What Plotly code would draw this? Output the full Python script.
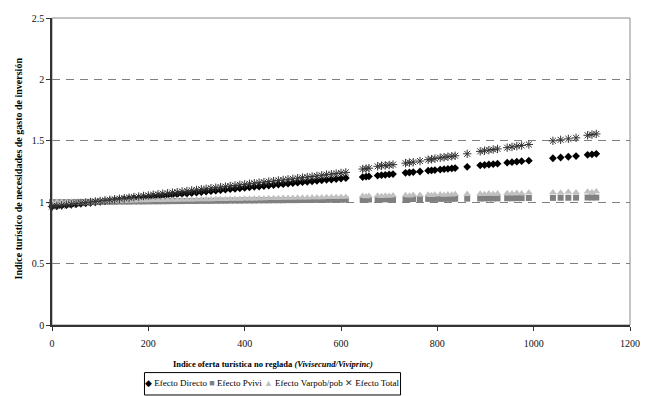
import plotly.graph_objects as go

# ---- data ----
x_dense = [0, 10, 20, 30, 40, 50, 60, 70, 80, 90, 100, 110, 120, 130, 140, 150, 160, 170, 180, 190,
           200, 210, 220, 230, 240, 250, 260, 270, 280, 290, 300, 310, 320, 330, 340, 350, 360, 370,
           380, 390, 400, 410, 420, 430, 440, 450, 460, 470, 480, 490, 500, 510, 520, 530, 540, 550,
           560, 570, 580, 590, 600, 610]
x_sparse = [645, 652, 658, 676, 684, 692, 700, 708, 734, 742, 750, 764, 781, 788, 795, 806, 814, 822,
            830, 837, 862, 889, 898, 907, 916, 925, 945, 955, 965, 975, 990, 1040, 1056, 1072, 1088,
            1112, 1121, 1130]

directo_dense = [0.965, 0.969, 0.973, 0.976, 0.980, 0.984, 0.988, 0.992, 0.995, 0.999, 1.003, 1.007,
                 1.011, 1.014, 1.018, 1.022, 1.026, 1.030, 1.033, 1.037, 1.041, 1.045, 1.049, 1.052,
                 1.056, 1.060, 1.064, 1.068, 1.071, 1.075, 1.079, 1.083, 1.087, 1.090, 1.094, 1.098,
                 1.102, 1.106, 1.109, 1.113, 1.117, 1.121, 1.125, 1.128, 1.132, 1.136, 1.140, 1.144,
                 1.147, 1.151, 1.155, 1.159, 1.163, 1.166, 1.170, 1.174, 1.178, 1.182, 1.185, 1.189,
                 1.193, 1.197]
directo_sparse = [1.205, 1.208, 1.210, 1.217, 1.220, 1.223, 1.226, 1.229, 1.239, 1.242, 1.245, 1.250,
                  1.257, 1.259, 1.262, 1.266, 1.269, 1.272, 1.275, 1.278, 1.288, 1.300, 1.303, 1.307,
                  1.310, 1.314, 1.322, 1.326, 1.330, 1.334, 1.338, 1.358, 1.364, 1.370, 1.376, 1.386,
                  1.390, 1.394]

pvivi_dense = [1.000, 1.000, 1.001, 1.001, 1.001, 1.002, 1.002, 1.002, 1.003, 1.003, 1.003, 1.004,
               1.004, 1.004, 1.005, 1.005, 1.005, 1.006, 1.006, 1.006, 1.007, 1.007, 1.007, 1.008,
               1.008, 1.009, 1.009, 1.009, 1.010, 1.010, 1.010, 1.011, 1.011, 1.011, 1.012, 1.012,
               1.012, 1.013, 1.013, 1.013, 1.014, 1.014, 1.014, 1.015, 1.015, 1.015, 1.016, 1.016,
               1.016, 1.017, 1.017, 1.017, 1.018, 1.018, 1.018, 1.019, 1.019, 1.019, 1.020, 1.020,
               1.020, 1.021]
pvivi_sparse = [1.022, 1.022, 1.022, 1.023, 1.023, 1.024, 1.024, 1.024, 1.025, 1.025, 1.026, 1.026,
                1.027, 1.027, 1.027, 1.027, 1.028, 1.028, 1.028, 1.028, 1.029, 1.030, 1.031, 1.031,
                1.031, 1.031, 1.032, 1.032, 1.033, 1.033, 1.034, 1.035, 1.036, 1.036, 1.037, 1.038,
                1.038, 1.038]

varpob_dense = [1.000, 1.001, 1.001, 1.002, 1.003, 1.004, 1.004, 1.005, 1.006, 1.006, 1.007, 1.008,
                1.008, 1.009, 1.010, 1.011, 1.011, 1.012, 1.013, 1.013, 1.014, 1.015, 1.015, 1.016,
                1.017, 1.018, 1.018, 1.019, 1.020, 1.020, 1.021, 1.022, 1.022, 1.023, 1.024, 1.025,
                1.025, 1.026, 1.027, 1.027, 1.028, 1.029, 1.029, 1.030, 1.031, 1.032, 1.032, 1.033,
                1.034, 1.034, 1.035, 1.036, 1.036, 1.037, 1.038, 1.039, 1.039, 1.040, 1.041, 1.041,
                1.042, 1.043]
varpob_sparse = [1.050, 1.046, 1.051, 1.052, 1.049, 1.053, 1.050, 1.055, 1.057, 1.053, 1.058, 1.059,
                 1.060, 1.057, 1.061, 1.062, 1.059, 1.063, 1.060, 1.064, 1.066, 1.068, 1.065, 1.070,
                 1.067, 1.071, 1.073, 1.070, 1.074, 1.071, 1.076, 1.080, 1.077, 1.083, 1.080, 1.086,
                 1.082, 1.087]

total_dense = [0.965, 0.970, 0.974, 0.979, 0.983, 0.988, 0.992, 0.997, 1.001, 1.006, 1.010, 1.015,
               1.019, 1.024, 1.028, 1.033, 1.037, 1.042, 1.046, 1.051, 1.055, 1.060, 1.064, 1.069,
               1.073, 1.078, 1.082, 1.087, 1.091, 1.096, 1.100, 1.105, 1.109, 1.114, 1.118, 1.123,
               1.127, 1.132, 1.136, 1.141, 1.145, 1.150, 1.154, 1.159, 1.163, 1.168, 1.172, 1.177,
               1.181, 1.186, 1.190, 1.195, 1.200, 1.204, 1.209, 1.214, 1.219, 1.224, 1.228, 1.233,
               1.238, 1.243]
total_sparse = [1.270, 1.273, 1.277, 1.292, 1.297, 1.300, 1.303, 1.306, 1.318, 1.322, 1.326, 1.335,
                1.346, 1.350, 1.355, 1.362, 1.366, 1.370, 1.374, 1.378, 1.394, 1.414, 1.419, 1.424,
                1.429, 1.434, 1.444, 1.450, 1.456, 1.462, 1.470, 1.500, 1.508, 1.516, 1.524, 1.545,
                1.551, 1.556]

x_all = x_dense + x_sparse
series = [
    ("Efecto Directo", directo_dense + directo_sparse, dict(symbol="diamond", size=6, color="#000000")),
    ("Efecto Pvivi", pvivi_dense + pvivi_sparse, dict(symbol="square", size=6, color="#808080")),
    ("Efecto Varpob/pob", varpob_dense + varpob_sparse, dict(symbol="triangle-up", size=7, color="#c0c0c0")),
    ("Efecto Total", total_dense + total_sparse,
     dict(symbol="asterisk-open", size=7, color="#333333", line=dict(width=1, color="#333333"))),
]

x_ticks = [0, 200, 400, 600, 800, 1000, 1200]
y_ticks = [0, 0.5, 1, 1.5, 2, 2.5]
y_ticklabels = ["0", "0.5", "1", "1.5", "2", "2.5"]

SERIF = "Liberation Serif, Times New Roman, serif"

fig = go.Figure()
for name, yv, mk in series:
    fig.add_trace(go.Scatter(x=x_all, y=yv, mode="markers", name=name, marker=mk,
                             showlegend=False, cliponaxis=False))

fig.update_layout(
    width=655, height=396,
    margin=dict(l=52, r=25, t=15, b=71),
    paper_bgcolor="white", plot_bgcolor="white",
    font=dict(family=SERIF, size=9, color="#000000"),
    xaxis=dict(range=[0, 1200], tickvals=x_ticks, ticks="outside", ticklen=4, tickcolor="#333333",
               showline=True, linecolor="#333333", linewidth=1.5, showgrid=False, zeroline=False,
               ticklabelstandoff=4, tickfont=dict(size=10, color="#111111")),
    yaxis=dict(range=[0, 2.5], tickvals=y_ticks, ticktext=y_ticklabels, ticks="outside", ticklen=4,
               tickcolor="#333333", showline=True, linecolor="#333333", linewidth=1.5,
               showgrid=True, gridcolor="#808080", gridwidth=1, griddash="8px,6px",
               zeroline=False, tickfont=dict(size=10, color="#111111")),
    shapes=[dict(type="rect", xref="paper", yref="paper", x0=0, x1=1, y0=0, y1=1,
                 line=dict(color="#8a8a8a", width=1), layer="below"),
            dict(type="rect", xref="paper", yref="paper", x0=0.160, x1=0.603, y0=-0.228, y1=-0.155,
                 line=dict(color="#000000", width=1), fillcolor="white")],
    annotations=[
        dict(text="<b>Indice oferta turística no reglada <i>(Vivisecund/Viviprinc)</i></b>",
             xref="paper", yref="paper", x=0.382, y=-0.126, showarrow=False,
             font=dict(size=8.5, color="#000000"), xanchor="center", yanchor="middle"),
        dict(text="<b>Indice turístico de necesidades de gasto de inversión</b>",
             xref="paper", yref="paper", x=-0.0588, y=0.51, textangle=-90, showarrow=False,
             font=dict(size=10, color="#000000"), xanchor="center", yanchor="middle"),
        dict(text=("<span style='color:#000000'>◆</span> Efecto Directo "
                   "<span style='color:#808080'>■</span> Efecto Pvivi "
                   "<span style='color:#c0c0c0'>▲</span> Efecto Varpob/pob "
                   "<span style='color:#333333'>✕</span> Efecto Total"),
             xref="paper", yref="paper", x=0.381, y=-0.19, showarrow=False,
             font=dict(size=9, color="#000000"), xanchor="center", yanchor="middle"),
    ],
)

fig.write_html("out.html")
